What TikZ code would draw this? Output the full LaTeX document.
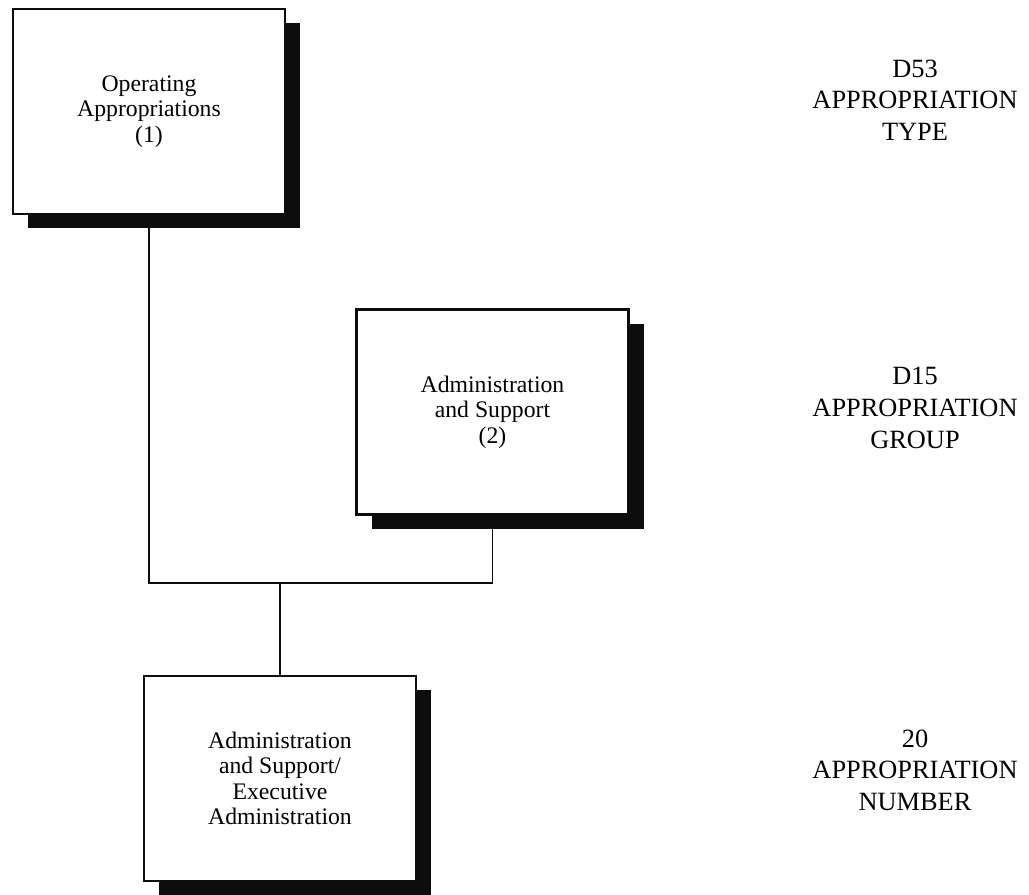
\documentclass[tikz,border=0pt]{standalone}
\usepackage{fontspec}
\setmainfont{Liberation Serif}
\usepackage{tikz}
\usepackage{xcolor}
\usetikzlibrary{shadows, positioning, calc}
\definecolor{inkline}{gray}{0.05}
\tikzset{
  unitbox/.style={
    draw=inkline, fill=white, line width=1.3pt,
    minimum width=5.44cm, minimum height=4.1cm,
    align=center, font=\fontsize{13.5}{14.5}\selectfont,
    drop shadow={shadow xshift=0.3cm, shadow yshift=-0.28cm,
                 fill=inkline, opacity=1}
  },
  levellabel/.style={align=center, font=\fontsize{15}{18}\selectfont},
  link/.style={draw=inkline, line width=1pt}
}

\begin{document}
\begin{tikzpicture}
    \useasboundingbox (0,0) rectangle (20.58,-17.9);

    \node[unitbox] (optype) at (2.98,-2.23) {%
      Operating\\Appropriations\\(1)};

    \node[unitbox] (admgroup) at (9.85,-8.24) {%
      Administration\\and Support\\(2)};

    \node[unitbox] (execnum) at (5.6,-15.57) {%
      Administration\\and Support/\\Executive\\Administration};

    \node[levellabel] (typelbl) at (18.3,-2.0) {D53\\APPROPRIATION\\TYPE};
    \node[levellabel] (grouplbl) at (18.3,-8.16) {D15\\APPROPRIATION\\GROUP};
    \node[levellabel] (numlbl) at (18.3,-15.4) {20\\APPROPRIATION\\NUMBER};

    \coordinate (bus) at (5.6,-11.66);
    \draw[link] (optype.south) |- (bus) -| (admgroup.south);
    \draw[link] (bus) -- (execnum.north);
  \end{tikzpicture}
\end{document}
